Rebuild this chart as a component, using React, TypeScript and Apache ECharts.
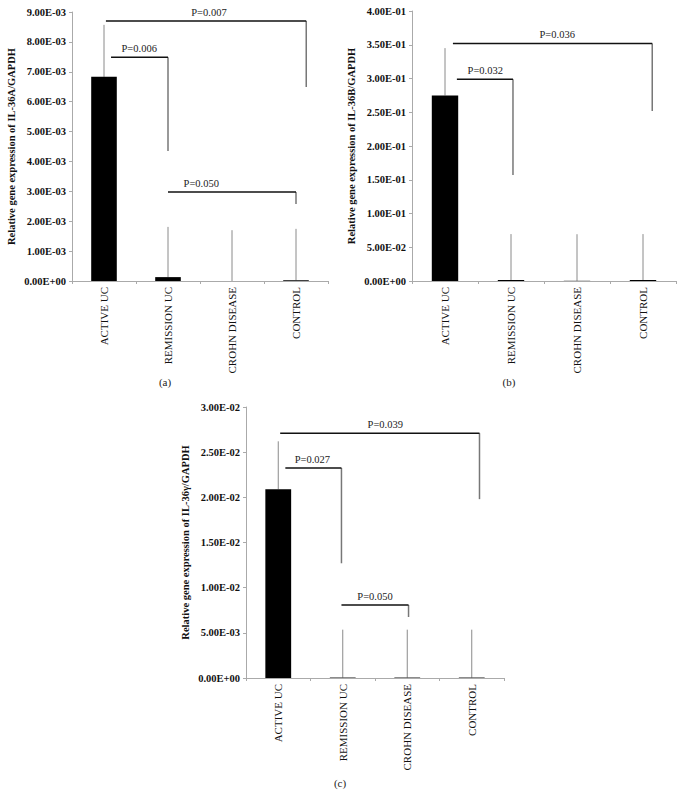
import React, { useEffect, useRef } from "react";
import * as echarts from "echarts";

const categories = ["ACTIVE UC", "REMISSION UC", "CROHN DISEASE", "CONTROL"];

// Panel (a) IL-36A
const valuesA = [6.83e-3, 1.3e-4, 0, 2.5e-5];
const errorsA = [1.74e-3, 1.68e-3, 1.7e-3, 1.72e-3];
// Panel (b) IL-36B
const valuesB = [0.275, 0.0015, 0.0003, 0.0015];
const errorsB = [0.07, 0.068, 0.069, 0.068];
// Panel (c) IL-36γ
const valuesC = [0.0209, 0.00005, 0.00005, 0.00005];
const errorsC = [0.0053, 0.0053, 0.0053, 0.0053];

// Significance brackets: x1/x2/labelX in category units (0 = ACTIVE UC), top = horizontal level, drop = end of right leg
const bracketsA = [
  { label: "P=0.007", x1: 0.03, x2: 3.16, top: 8.7e-3, drop: 6.49e-3, labelX: 1.64 },
  { label: "P=0.006", x1: 0.11, x2: 1.0, top: 7.49e-3, drop: 4.35e-3, labelX: 0.55 },
  { label: "P=0.050", x1: 1.0, x2: 3.0, top: 2.98e-3, drop: 2.58e-3, labelX: 1.52 },
];
const bracketsB = [
  { label: "P=0.036", x1: 0.12, x2: 3.14, top: 0.352, drop: 0.252, labelX: 1.7 },
  { label: "P=0.032", x1: 0.18, x2: 1.03, top: 0.299, drop: 0.157, labelX: 0.61 },
];
const bracketsC = [
  { label: "P=0.039", x1: 0.03, x2: 3.12, top: 0.0271, drop: 0.0198, labelX: 1.66 },
  { label: "P=0.027", x1: 0.11, x2: 0.98, top: 0.02325, drop: 0.0127, labelX: 0.53 },
  { label: "P=0.050", x1: 0.98, x2: 2.02, top: 0.00808, drop: 0.00675, labelX: 1.5 },
];

const yNames = [
  "Relative gene expression of IL-36A/GAPDH",
  "Relative gene expression of IL-36B/GAPDH",
  "Relative gene expression of IL-36γ/GAPDH",
];
const yMax = [0.009, 0.4, 0.03];
const yInterval = [0.001, 0.05, 0.005];
const panelLabels = ["(a)", "(b)", "(c)"];

const SERIF = "'Liberation Serif', 'Times New Roman', serif";

function fmtExp(v: number): string {
  const s = v.toExponential(2);
  const [m, e] = s.split("e");
  const sign = e[0] === "-" ? "-" : "+";
  const d = Math.abs(parseInt(e, 10));
  return `${m}E${sign}${d < 10 ? "0" + d : d}`;
}

export default function App() {
  const ref = useRef<HTMLDivElement>(null);
  useEffect(() => {
    if (!ref.current) return;
    const chart = echarts.init(ref.current, undefined, { renderer: "svg" });
    const grids = [
      { left: 72, top: 12, width: 256, height: 269 },
      { left: 412, top: 11, width: 264, height: 270 },
      { left: 246, top: 407, width: 258, height: 271 },
    ];
    const values = [valuesA, valuesB, valuesC];
    const errors = [errorsA, errorsB, errorsC];
    const brackets = [bracketsA, bracketsB, bracketsC];

    const xAxis = grids.map((_, i) => ({
      type: "category",
      gridIndex: i,
      data: categories,
      axisLine: { lineStyle: { color: "#aaa", width: 1 } },
      axisTick: { show: true, length: 3, lineStyle: { color: "#aaa" } },
      axisLabel: {
        rotate: 90,
        margin: 6,
        color: "#111",
        fontFamily: SERIF,
        fontSize: 11,
        interval: 0,
      },
    }));
    const yAxis = grids.map((_, i) => ({
      type: "value",
      gridIndex: i,
      min: 0,
      max: yMax[i],
      interval: yInterval[i],
      name: yNames[i],
      nameLocation: "middle",
      nameGap: 55,
      nameRotate: 90,
      nameTextStyle: { fontFamily: SERIF, fontSize: 10.5, fontWeight: "bold", color: "#111" },
      splitLine: { show: false },
      axisLine: { show: true, lineStyle: { color: "#aaa", width: 1 } },
      axisTick: { show: true, length: 3, lineStyle: { color: "#aaa" } },
      axisLabel: {
        margin: 6,
        color: "#111",
        fontFamily: SERIF,
        fontSize: 10.5,
        fontWeight: "bold",
        formatter: (v: number) => fmtExp(v),
      },
    }));

    const series: any[] = [];
    for (let i = 0; i < 3; i++) {
      series.push({
        type: "bar",
        xAxisIndex: i,
        yAxisIndex: i,
        barWidth: "40%",
        data: values[i],
        itemStyle: { color: "#000" },
        silent: true,
      });
      series.push({
        type: "custom",
        xAxisIndex: i,
        yAxisIndex: i,
        silent: true,
        encode: { x: 0, y: [1, 2] },
        data: values[i].map((v, k) => [k, v, v + errors[i][k]]),
        renderItem: (params: any, api: any) => {
          const x = api.value(0);
          const p1 = api.coord([x, api.value(1)]);
          const p2 = api.coord([x, api.value(2)]);
          return {
            type: "line",
            shape: { x1: p1[0], y1: p1[1], x2: p2[0], y2: p2[1] },
            style: { stroke: "#8a8a8a", lineWidth: 1 },
          };
        },
      });
      const br = brackets[i];
      series.push({
        type: "custom",
        xAxisIndex: i,
        yAxisIndex: i,
        silent: true,
        clip: false,
        encode: { x: 0, y: 1 },
        data: br.map((b) => [0, b.top]),
        renderItem: (params: any, api: any) => {
          const b = br[params.dataIndex];
          const c0 = api.coord([0, b.top]);
          const bw = api.size([1, 0])[0];
          const yTop = c0[1];
          const yDrop = api.coord([0, b.drop])[1];
          const xa = c0[0] + b.x1 * bw;
          const xb = c0[0] + b.x2 * bw;
          const xl = c0[0] + b.labelX * bw;
          return {
            type: "group",
            children: [
              {
                type: "line",
                shape: { x1: xb, y1: yTop, x2: xb, y2: yDrop },
                style: { stroke: "#777", lineWidth: 1.5 },
              },
              {
                type: "line",
                shape: { x1: xa, y1: yTop, x2: xb, y2: yTop },
                style: { stroke: "#111", lineWidth: 1.5 },
              },
              {
                type: "text",
                style: {
                  text: b.label,
                  x: xl,
                  y: yTop - 3,
                  align: "center",
                  verticalAlign: "bottom",
                  fontFamily: SERIF,
                  fontSize: 10.5,
                  fill: "#222",
                },
              },
            ],
          };
        },
      });
    }

    const labelPos = [
      [165, 382],
      [509, 382],
      [340, 783],
    ];

    chart.setOption({
      animation: false,
      backgroundColor: "#fff",
      grid: grids,
      xAxis,
      yAxis,
      series,
      graphic: panelLabels.map((t, i) => ({
        type: "text",
        x: labelPos[i][0],
        y: labelPos[i][1],
        style: {
          text: t,
          align: "center",
          verticalAlign: "middle",
          fontFamily: SERIF,
          fontSize: 11,
          fill: "#222",
        },
      })),
    });
    return () => chart.dispose();
  }, []);
  return (
    <div
      ref={ref}
      style={{ position: "fixed", left: 0, top: 0, width: 684, height: 805, background: "#fff" }}
    />
  );
}
